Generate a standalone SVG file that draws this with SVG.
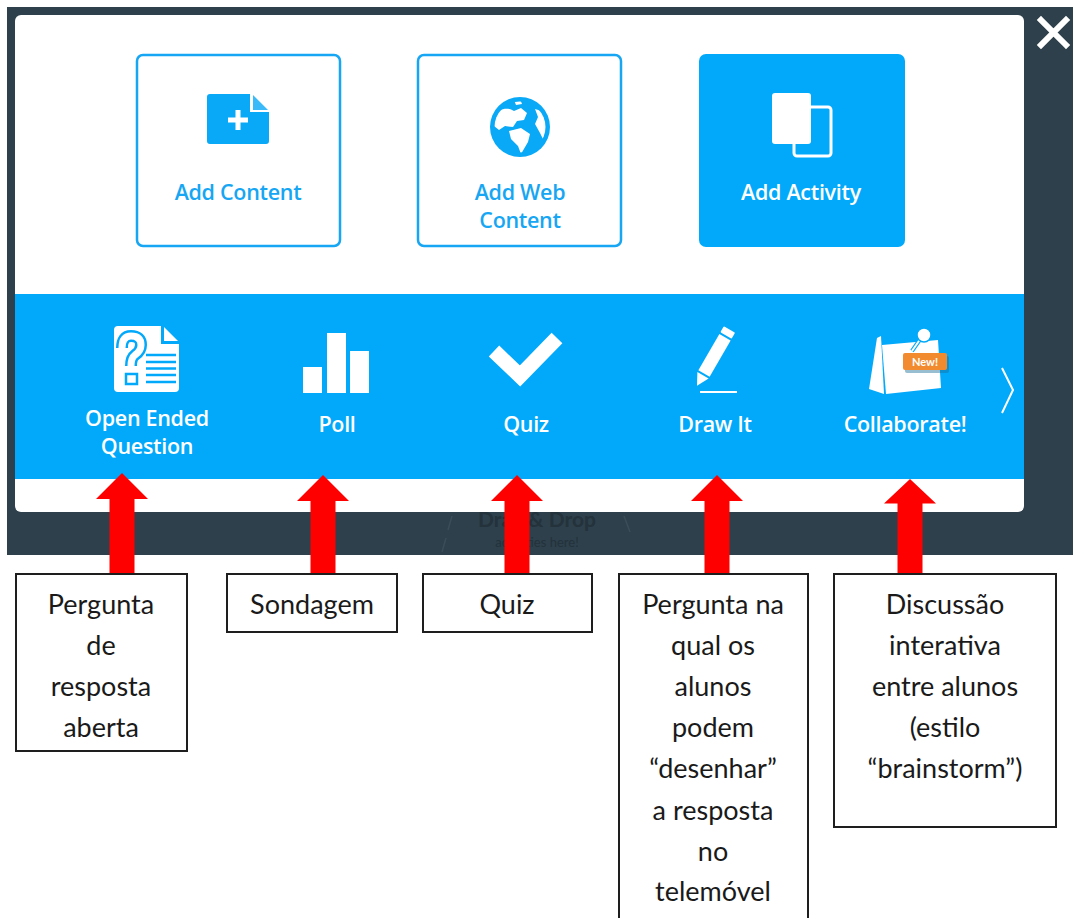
<svg xmlns="http://www.w3.org/2000/svg" width="1073" height="918" viewBox="0 0 1073 918">
<style>
.ui{font-family:"Open Sans",Lato,"Liberation Sans",sans-serif;font-weight:600;font-size:21.5px;text-anchor:middle;letter-spacing:-0.3px}
.blue{fill:#0aa9f7}
.wt{fill:#ffffff}
.lbl{font-family:Lato,"Noto Sans","Liberation Sans",sans-serif;font-size:27px;fill:#1a1a1a;text-anchor:middle}
.box{fill:#ffffff;stroke:#1e1e1e;stroke-width:2}
.arrow{fill:#ff0000}
</style>
<defs>
<path id="arr" d="M0,0 L26,26 L12.5,26 L12.5,100 L-12.5,100 L-12.5,26 L-26,26 Z"/>
<clipPath id="globeClip"><circle cx="520" cy="127" r="25.5"/></clipPath>
</defs>
<rect x="0" y="0" width="1073" height="918" fill="#ffffff"/>
<g id="backdrop">
<rect x="7" y="7" width="1066" height="548" fill="#2e404b"/>
<text x="537" y="527" font-family="Lato,'Liberation Sans',sans-serif" font-weight="700" font-size="21" fill="#23323b" text-anchor="middle">Drag &amp; Drop</text>
<text x="537" y="547" font-family="Lato,'Liberation Sans',sans-serif" font-size="13" fill="#23323b" text-anchor="middle">activities here!</text>
<path d="M452,516 L448,530 M446,538 L442,552 M624,516 L630,532" stroke="#3b4d58" stroke-width="1.5" fill="none"/>
<path d="M1041,20 L1066,45 M1066,20 L1041,45" stroke="#ffffff" stroke-width="6" stroke-linecap="square"/>
</g>
<g id="modal">
<rect x="15" y="15" width="1009" height="497" rx="6" fill="#ffffff"/>
<rect x="15" y="294" width="1009" height="185" fill="#02a9fb"/>
</g>
<g id="add-content">
<rect x="137" y="55" width="203" height="191" rx="6" fill="none" stroke="#17a6f3" stroke-width="2.5"/>
<path class="blue" d="M210,94 L250,94 L250,112 L269,112 L269,141 Q269,144 266,144 L210,144 Q207,144 207,141 L207,97 Q207,94 210,94 Z"/>
<path class="blue" d="M253,95 L268,110 L253,110 Z" opacity="0.8"/>
<path d="M238,110 L238,130 M228,120 L248,120" stroke="#ffffff" stroke-width="5"/>
<text class="ui" x="238" y="200" fill="#16a6f3">Add Content</text>
</g>
<g id="add-web-content">
<rect x="418" y="55" width="203" height="191" rx="6" fill="none" stroke="#17a6f3" stroke-width="2.5"/>
<circle cx="520" cy="127" r="30" fill="#0aa9f7"/>
<g clip-path="url(#globeClip)" fill="#ffffff">
<path d="M494,116 C499,108 508,107 514,111 L521,108 L527,113 L524,120 L517,121 L513,127 L505,126 L499,130 L494,126 Z"/>
<path d="M509,131 L521,128 L530,134 L528,142 L521,154 L518,146 L511,139 Z"/>
<path d="M535,109 L545,112 L550,120 L550,134 L545,143 L540,133 L535,124 L538,117 Z"/>
<path d="M514,100 L520,99 L522,104 L516,105 Z"/>
</g>
<text class="ui" x="520" y="200" fill="#16a6f3">Add Web</text>
<text class="ui" x="520" y="228" fill="#16a6f3">Content</text>
</g>
<g id="add-activity">
<rect x="699" y="54" width="206" height="193" rx="7" fill="#02a9fb"/>
<rect x="794" y="107" width="37" height="49" rx="3" fill="none" stroke="#ffffff" stroke-width="3"/>
<rect x="772" y="93" width="39" height="51" rx="3" fill="#ffffff"/>
<text class="ui" x="801" y="200" fill="#ffffff">Add Activity</text>
</g>
<g id="open-ended-question">
<path class="wt" d="M118,326 L161,326 L161,344 L179,344 L179,388 Q179,392 175,392 L118,392 Q114,392 114,388 L114,330 Q114,326 118,326 Z"/>
<path class="wt" d="M164,327 L178,341 L164,341 Z"/>
<path d="M122,348 Q122,336 131,336 Q141,336 141,345 Q141,351 135,355 Q131,358 131,366" fill="none" stroke="#02a9fb" stroke-width="12"/>
<path d="M122,348 Q122,336 131,336 Q141,336 141,345 Q141,351 135,355 Q131,358 131,366" fill="none" stroke="#ffffff" stroke-width="7"/>
<rect x="126" y="374" width="11" height="10" fill="#ffffff" stroke="#02a9fb" stroke-width="2.5"/>
<path d="M146,355 H176 M146,362 H176 M146,368.5 H176 M146,375 H176 M146,382 H176" stroke="#02a9fb" stroke-width="2.5"/>
<text class="ui" x="147" y="426" fill="#ffffff">Open Ended</text>
<text class="ui" x="147" y="454" fill="#ffffff">Question</text>
</g>
<g id="poll">
<rect class="wt" x="303" y="367" width="19" height="26"/>
<rect class="wt" x="327" y="333" width="19" height="60"/>
<rect class="wt" x="350" y="351" width="19" height="42"/>
<text class="ui" x="337" y="432" fill="#ffffff">Poll</text>
</g>
<g id="quiz">
<path d="M494,351 L520,376 L557,338" fill="none" stroke="#ffffff" stroke-width="15"/>
<text class="ui" x="526" y="432" fill="#ffffff">Quiz</text>
</g>
<g id="draw-it">
<g transform="translate(713,358) rotate(30)">
<rect class="wt" x="-6.5" y="-33" width="13" height="7" rx="1"/>
<rect class="wt" x="-6.5" y="-24" width="13" height="42"/>
<path class="wt" d="M-6.5,20 L6.5,20 L0,32 Z"/>
</g>
<path d="M700,392 H737" stroke="#ffffff" stroke-width="1.8"/>
<text class="ui" x="715" y="432" fill="#ffffff">Draw It</text>
</g>
<g id="collaborate">
<path class="wt" d="M877,338 L881,336 L884,394 L869,389 Z"/>
<path class="wt" d="M882,345 L938,340 L941,388 L886,394 Z"/>
<path d="M912,351 L921,338" stroke="#02a9fb" stroke-width="4"/>
<path d="M912,351 L921,338" stroke="#ffffff" stroke-width="2"/>
<circle cx="924" cy="335" r="7" fill="#ffffff" stroke="#02a9fb" stroke-width="1.5"/>
<rect x="905" y="356" width="44" height="17" rx="2" fill="#1b6f99" opacity="0.45"/>
<rect x="903" y="353" width="44" height="17" rx="2" fill="#f28b30"/>
<text x="925" y="366" font-family="Lato,'Liberation Sans',sans-serif" font-weight="700" font-size="11" fill="#ffffff" text-anchor="middle">New!</text>
<text class="ui" x="905" y="432" fill="#ffffff">Collaborate!</text>
<path d="M1002,368 L1013,390 L1002,413" fill="none" stroke="#ffffff" stroke-width="2"/>
</g>
<g id="connectors" class="arrow">
<use href="#arr" transform="translate(122,473)"/>
<use href="#arr" transform="translate(323,475)"/>
<use href="#arr" transform="translate(517,475)"/>
<use href="#arr" transform="translate(717,475)"/>
<use href="#arr" transform="translate(910,479) scale(1,0.94)"/>
</g>
<g id="label-open">
<rect class="box" x="16" y="574" width="171" height="177"/>
<text class="lbl" x="101" y="614">Pergunta</text>
<text class="lbl" x="101" y="655">de</text>
<text class="lbl" x="101" y="696">resposta</text>
<text class="lbl" x="101" y="737">aberta</text>
</g>
<g id="label-poll">
<rect class="box" x="227" y="574" width="170" height="58"/>
<text class="lbl" x="312" y="614">Sondagem</text>
</g>
<g id="label-quiz">
<rect class="box" x="423" y="574" width="169" height="58"/>
<text class="lbl" x="507" y="614">Quiz</text>
</g>
<g id="label-draw">
<rect class="box" x="619" y="574" width="189" height="350"/>
<text class="lbl" x="713" y="614">Pergunta na</text>
<text class="lbl" x="713" y="655">qual os</text>
<text class="lbl" x="713" y="696">alunos</text>
<text class="lbl" x="713" y="737">podem</text>
<text class="lbl" x="713" y="778">“desenhar”</text>
<text class="lbl" x="713" y="820">a resposta</text>
<text class="lbl" x="713" y="861">no</text>
<text class="lbl" x="713" y="901">telemóvel</text>
</g>
<g id="label-collab">
<rect class="box" x="834" y="574" width="222" height="253"/>
<text class="lbl" x="945" y="614">Discussão</text>
<text class="lbl" x="945" y="655">interativa</text>
<text class="lbl" x="945" y="696">entre alunos</text>
<text class="lbl" x="945" y="737">(estilo</text>
<text class="lbl" x="945" y="778">“brainstorm”)</text>
</g>
</svg>
